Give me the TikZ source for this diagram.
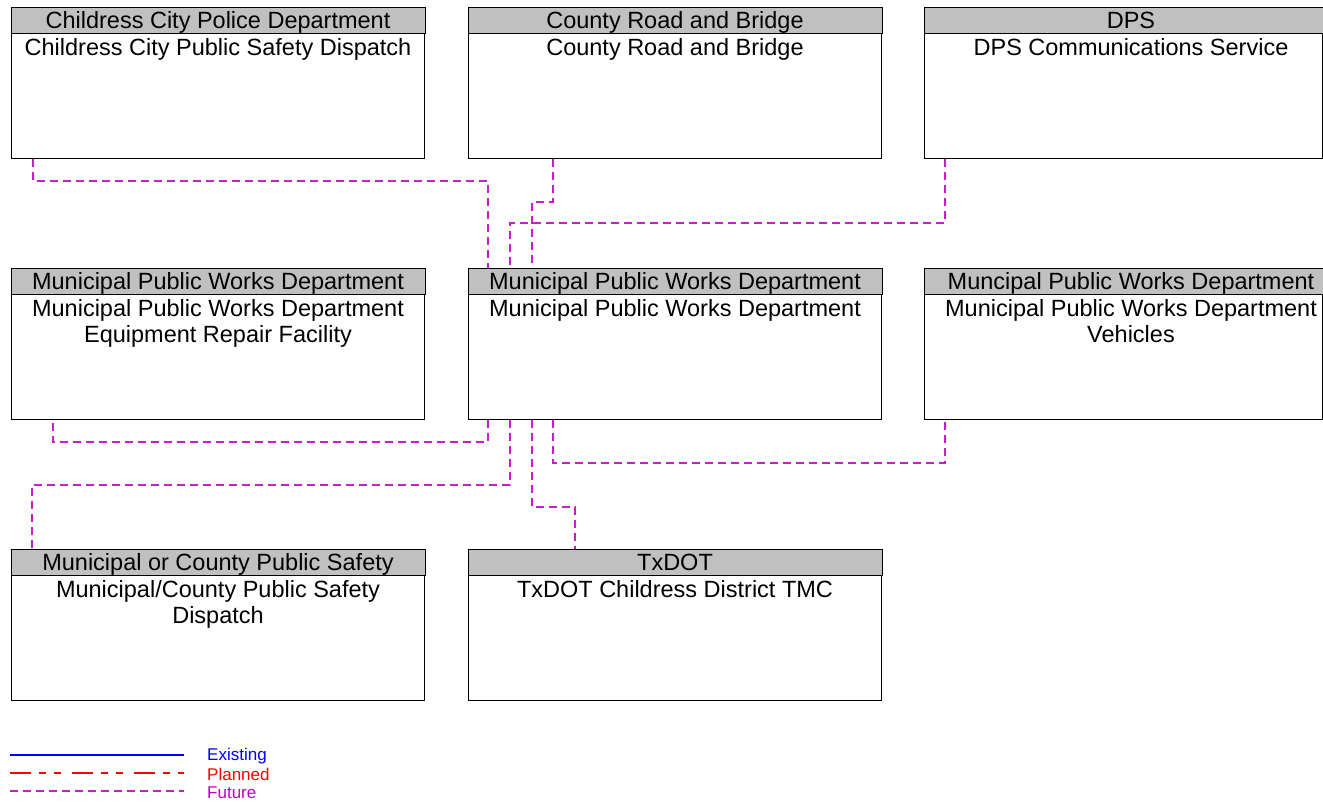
\documentclass[tikz,border=0pt]{standalone}
\usepackage{fontspec}
\setmainfont{Liberation Sans}
\usetikzlibrary{calc}
\definecolor{futc}{RGB}{200,30,200}
\definecolor{futtxt}{RGB}{192,0,192}
\definecolor{hdrgray}{RGB}{192,192,192}
\tikzset{
  ubox/.style={draw=black, line width=1pt, anchor=north west, inner sep=0pt, minimum height=151pt},
  hdrtext/.style={anchor=base, inner sep=0pt, font=\fontsize{23.5}{26}\selectfont},
  bodytext/.style={anchor=north, inner sep=0pt, align=center, font=\fontsize{23.5}{26}\selectfont},
  future/.style={draw=futc, line width=1.1pt, dash pattern=on 8pt off 5pt},
  planned/.style={draw=red, line width=1.1pt, dash pattern=on 21pt off 8pt on 7pt off 8pt on 7pt off 11pt},
  existing/.style={draw=blue, line width=1.1pt},
  legtext/.style={anchor=west, inner sep=0pt, font=\fontsize{17}{19}\selectfont}
}
% #1 name, #2 x, #3 y, #4 width, #5 header, #6 body, #7 text x shift
\newcommand\umlbox[7]{%
  \node[ubox, minimum width=#4] (#1) at (#2,#3) {};
  \path[fill=hdrgray, draw=black, line width=1pt] (#1.north west) rectangle ($(#1.north east)+(0,26)$);
  \node[hdrtext] (#1h) at ($(#1.north)+(#7,21.5)$) {#5};
  \node[bodytext] (#1b) at ($(#1.north)+(#7,31.5)$) {#6};
}
\begin{document}
\begin{tikzpicture}[x=1pt, y=-1pt]
\useasboundingbox (0,0) rectangle (1323,804);
\umlbox{cc}{11}{7}{413pt}{Childress City Police Department}{Childress City Public Safety Dispatch}{0}
\umlbox{crb}{468}{7}{413pt}{County Road and Bridge}{County Road and Bridge}{0}
\umlbox{dps}{924}{7}{398pt}{DPS}{DPS Communications Service}{7.5}
\umlbox{er}{11}{268}{413pt}{Municipal Public Works Department}{Municipal Public Works Department\\Equipment Repair Facility}{0}
\umlbox{mp}{468}{268}{413pt}{Municipal Public Works Department}{Municipal Public Works Department}{0}
\umlbox{veh}{924}{268}{398pt}{Muncipal Public Works Department}{Municipal Public Works Department\\Vehicles}{7.5}
\umlbox{mc}{11}{549}{413pt}{Municipal or County Public Safety}{Municipal/County Public Safety\\Dispatch}{0}
\umlbox{tx}{468}{549}{413pt}{TxDOT}{TxDOT Childress District TMC}{0}
% connectors
\draw[future] ($(cc.south west)+(22,0)$) -- ++(0,22) -| ($(mp.north west)+(20,0)$);
\draw[future] ($(crb.south west)+(85,0)$) -- ++(0,43) -| ($(mp.north west)+(64,0)$);
\draw[future] ($(dps.south west)+(21,0)$) -- ++(0,64) -| ($(mp.north west)+(42,0)$);
\draw[future] ($(mp.south west)+(20,0)$) -- ++(0,22) -| ($(er.south west)+(42,0)$);
\draw[future] ($(mp.south west)+(42,0)$) -- ++(0,65) -| ($(mc.north west)+(21,0)$);
\draw[future] ($(mp.south west)+(64,0)$) -- ++(0,87) -| ($(tx.north west)+(107,0)$);
\draw[future] ($(mp.south west)+(85,0)$) -- ++(0,43) -| ($(veh.south west)+(21,0)$);
% legend
\coordinate (l1a) at (10,755); \coordinate (l1b) at (184,755);
\coordinate (l2a) at (10,773); \coordinate (l2b) at (184,773);
\coordinate (l3a) at (10,791); \coordinate (l3b) at (184,791);
\draw[existing] (l1a) -- (l1b);
\draw[planned] (l2a) -- (l2b);
\draw[future] (l3a) -- (l3b);
\node[legtext, text=blue] (lt1) at (207,756) {Existing};
\node[legtext, text=red] (lt2) at (207,774) {Planned};
\node[legtext, text=futtxt] (lt3) at (207,793) {Future};
\end{tikzpicture}
\end{document}
